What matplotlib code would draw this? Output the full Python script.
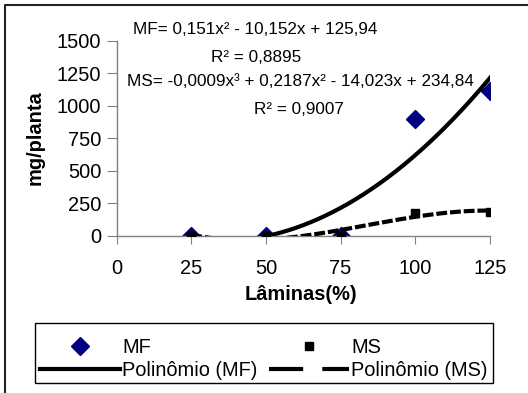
import numpy as np
import matplotlib
matplotlib.use("Agg")
import matplotlib.pyplot as plt
from matplotlib.lines import Line2D
from matplotlib.patches import Rectangle

plt.rcParams['font.family'] = ['Liberation Sans', 'DejaVu Sans']

# data
laminas = [25, 50, 75, 100, 125]
mf = [0, 0, 0, 902, 1111]
ms = [0, 0, 0, 175, 186]
x_ticks = [0, 25, 50, 75, 100, 125]
y_ticks = [0, 250, 500, 750, 1000, 1250, 1500]

eq_mf = "MF= 0,151x² - 10,152x + 125,94"
r2_mf = "R² = 0,8895"
eq_ms = "MS= -0,0009x³ + 0,2187x² - 14,023x + 234,84"
r2_ms = "R² = 0,9007"

W, H = 528, 393
fig = plt.figure(figsize=(W / 100, H / 100), dpi=100)
ax = fig.add_axes([116.5 / W, 1 - 235.7 / H, (490 - 116.5) / W, (235.7 - 41) / H])

navy = '#000080'
gray = '#808080'

# trendlines (polynomial fits as in the spreadsheet)
xs = np.linspace(min(laminas), max(laminas), 300)
fit_mf = np.polyfit(laminas, mf, 2)
fit_ms = np.polyfit(laminas, ms, 3)

ax.plot(laminas, mf, ls='none', marker='D', ms=9.5, color=navy, zorder=2)
ax.plot(laminas, ms, ls='none', marker='s', ms=6, color='black', zorder=3)
ax.plot(xs, np.polyval(fit_mf, xs), color='black', lw=3, zorder=4)
ax.plot(xs, np.polyval(fit_ms, xs), color='black', lw=3, dashes=(2.6, 0.7), zorder=4)

ax.set_xlim(0, 125)
ax.set_ylim(0, 1500)
ax.set_xticks(x_ticks)
ax.set_yticks(y_ticks)
for s in ['top', 'right']:
    ax.spines[s].set_visible(False)
for s in ['left', 'bottom']:
    ax.spines[s].set_color(gray)
    ax.spines[s].set_linewidth(1)
ax.tick_params(axis='y', direction='out', length=7, color=gray, labelsize=14.4, pad=4)
ax.tick_params(axis='x', direction='out', length=6, color=gray, labelsize=14.4, pad=11)

fig.text(300.5 / W, 1 - 295 / H, "Lâminas(%)", ha='center', va='center',
         fontsize=14.4, fontweight='bold')
fig.text(35 / W, 1 - 138 / H, "mg/planta", ha='center', va='center',
         rotation=90, fontsize=14.4, fontweight='bold')

# trendline equations
fig.text(255 / W, 1 - 30 / H, eq_mf, ha='center', va='center', fontsize=12.3)
fig.text(256 / W, 1 - 57 / H, r2_mf, ha='center', va='center', fontsize=12.3)
fig.text(300 / W, 1 - 82 / H, eq_ms, ha='center', va='center', fontsize=12.3)
fig.text(299 / W, 1 - 110 / H, r2_ms, ha='center', va='center', fontsize=12.3)

handles = [
    Line2D([], [], ls='none', marker='D', ms=9.5, color=navy),
    Line2D([], [], color='black', lw=3),
    Line2D([], [], ls='none', marker='s', ms=6, color='black'),
    Line2D([], [], color='black', lw=3, dashes=(8.2, 4.6)),
]
labels = ['MF', 'Polinômio (MF)', 'MS', 'Polinômio (MS)']
leg = ax.legend(handles, labels, ncol=2, loc='center',
                bbox_to_anchor=(264 / W, 1 - 359 / H), bbox_transform=fig.transFigure,
                fontsize=14.4, handlelength=4, handletextpad=0.1, columnspacing=0.6,
                labelspacing=0.2, borderpad=0.2, frameon=False)

# legend box drawn separately (text sits low in the original frame)
fig.add_artist(Rectangle((35 / W, 1 - 383 / H), (493 - 35) / W, 60 / H,
                         transform=fig.transFigure, fill=False,
                         edgecolor='black', lw=1))

# outer chart border (only top and left visible in the crop)
fig.add_artist(Line2D([5 / W, 5 / W, 1], [0, 1 - 4.5 / H, 1 - 4.5 / H],
                      transform=fig.transFigure, color='#222222', lw=1.5))

fig.savefig('out.png', dpi=100)
